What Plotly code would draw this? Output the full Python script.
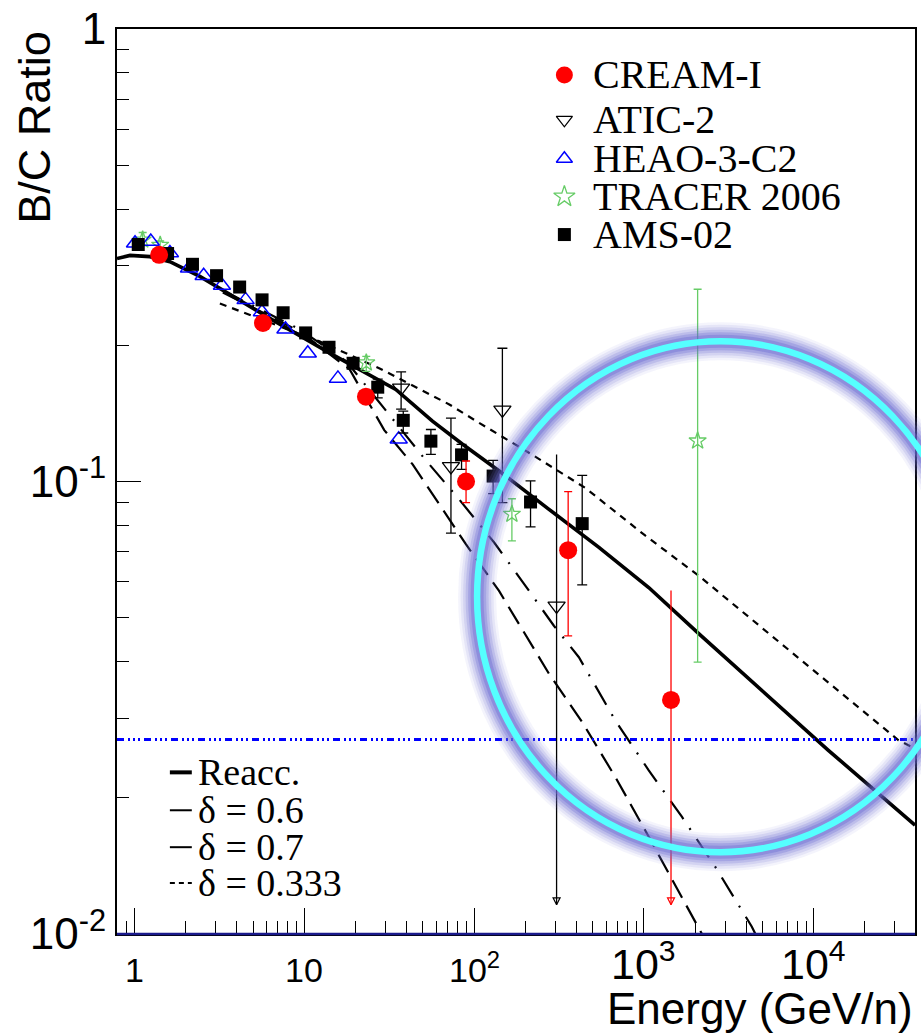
import numpy as np
import plotly.graph_objects as go

# ---------------- data ----------------
cream_E = [1.40, 5.72, 23.1, 89.7, 358, 1443]
cream_v = [0.317, 0.224, 0.154, 0.100, 0.0705, 0.0329]
cream_hi = [0.317, 0.224, 0.154, 0.111, 0.095, 0.0574]
cream_lo = [0.317, 0.224, 0.154, 0.0898, 0.0456, 0.0116]
cream_limit = [False, False, False, False, False, True]

atic_E = [37.2, 73.1, 146.8, 306]
atic_v = [0.161, 0.108, 0.144, 0.0531]
atic_hi = [0.1747, 0.138, 0.197, 0.1148]
atic_lo = [0.1445, 0.0769, 0.0898, 0.0116]
atic_limit = [False, False, False, True]

heao_E = [1.01, 1.25, 1.62, 2.10, 2.56, 3.28, 4.52, 5.64, 7.76, 10.5, 15.8, 36.0]
heao_v = [0.336, 0.339, 0.320, 0.296, 0.285, 0.271, 0.252, 0.237, 0.217, 0.192, 0.169, 0.124]

tracer_E = [1.12, 1.42, 23.2, 167, 2070]
tracer_v = [0.342, 0.333, 0.183, 0.0847, 0.123]
tracer_hi = [0.355, 0.340, 0.189, 0.0916, 0.266]
tracer_lo = [0.332, 0.326, 0.1752, 0.0739, 0.0399]

ams_E = [1.055, 1.57, 2.20, 3.05, 4.17, 5.65, 7.52, 10.2, 14.0, 19.4, 27.1, 38.3, 55.7, 84.4, 129.5, 215, 433]
ams_v = [0.334, 0.319, 0.302, 0.285, 0.269, 0.252, 0.236, 0.213, 0.198, 0.1825, 0.1616, 0.1365, 0.1228, 0.1145, 0.1028, 0.0901, 0.0807]
ams_hi = [0.334, 0.319, 0.302, 0.285, 0.269, 0.252, 0.236, 0.213, 0.198, 0.1825, 0.1683, 0.143, 0.1303, 0.1208, 0.1113, 0.1003, 0.1032]
ams_lo = [0.334, 0.319, 0.302, 0.285, 0.269, 0.252, 0.236, 0.213, 0.198, 0.1825, 0.153, 0.128, 0.1148, 0.1064, 0.0940, 0.0794, 0.0591]

reacc_E = [0.791, 0.944, 1.236, 1.62, 1.855, 2.43, 5.99, 14.6, 34.6, 56.9, 85.2, 140.6, 276, 543, 1067, 2101, 12130, 39400]
reacc_v = [0.311, 0.316, 0.314, 0.306, 0.2986, 0.284, 0.2317, 0.191, 0.1597, 0.136, 0.121, 0.1055, 0.0868, 0.0715, 0.0583, 0.0461, 0.0255, 0.0174]

d06_E = [3.32, 9.40, 17.7, 28.9, 50.9, 81.7, 131.3, 192.5, 295, 414, 680, 1067, 1675, 2630, 4315, 4530]
d06_v = [0.2644, 0.2169, 0.1844, 0.1467, 0.1125, 0.0913, 0.0733, 0.0601, 0.048, 0.0409, 0.0296, 0.023, 0.01814, 0.01407, 0.01038, 0.0100]

d07_E = [3.32, 9.40, 18.5, 29.6, 43.5, 89.5, 140.3, 276, 433, 680, 1067, 1833, 2195]
d07_v = [0.2617, 0.2147, 0.177, 0.1299, 0.1091, 0.0727, 0.0573, 0.0376, 0.0294, 0.0222, 0.0164, 0.0113, 0.0100]

d0333_E = [3.19, 12.3, 27.6, 71.5, 107, 220, 453, 1020, 2100, 31500, 39400]
d0333_v = [0.2474, 0.204, 0.178, 0.148, 0.1348, 0.1146, 0.0967, 0.0759, 0.0619, 0.0268, 0.0257]

hline_v = 0.0269

data_labels = ["CREAM-I", "ATIC-2", "HEAO-3-C2", "TRACER 2006", "AMS-02"]
model_labels = ["Reacc.", "δ = 0.6", "δ = 0.7", "δ = 0.333"]

x_ticks = [1, 10, 100, 1000, 10000]
x_ticktext = ["1", "10", "10<sup>2</sup>", "10<sup>3</sup>", "10<sup>4</sup>"]
y_ticks = [0.01, 0.1, 1]
y_ticktext = ["10<sup>-2</sup>", "10<sup>-1</sup>", "1"]

X_MIN, X_MAX = 0.791, 39400
Y_MIN, Y_MAX = 0.01, 1.0

# ---------------- layout geometry (pixels) ----------------
W, H = 921, 1033
L, R, T, B = 117, 917, 27, 934
x_label_sizes = [34, 34, 34, 43, 43]
x_label_centers = [970, 970, 968, 961, 961]


def pxx(px):
    return (px - L) / (R - L)


def pxy(py):
    return (B - py) / (B - T)


def err(v, hi, lo):
    v = np.asarray(v, float)
    return np.asarray(hi, float) - v, v - np.asarray(lo, float)


fig = go.Figure()

# ---------------- model curves ----------------
fig.add_trace(go.Scatter(x=d07_E, y=d07_v, mode="lines",
                         line=dict(color="black", width=2.2, dash="20px,9px"), showlegend=False))
fig.add_trace(go.Scatter(x=d06_E, y=d06_v, mode="lines",
                         line=dict(color="black", width=2.2, dash="22px,11px,2px,11px"), showlegend=False))
fig.add_trace(go.Scatter(x=d0333_E, y=d0333_v, mode="lines",
                         line=dict(color="black", width=2.2, dash="7px,6px"), showlegend=False))
fig.add_trace(go.Scatter(x=reacc_E, y=reacc_v, mode="lines",
                         line=dict(color="black", width=3.6), showlegend=False))
fig.add_trace(go.Scatter(x=[X_MIN, X_MAX], y=[hline_v, hline_v], mode="lines",
                         line=dict(color="#0000ff", width=3,
                                   dash="7px,4px,2px,3px,2px,3px,2px,4px"), showlegend=False))


def add_points(E, v, hi, lo, limit, marker, ecolor, ewidth):
    E = np.asarray(E); v = np.asarray(v)
    up, dn = err(v, hi, lo)
    lim = np.asarray(limit, bool)
    norm = ~lim
    fig.add_trace(go.Scatter(x=E[norm], y=v[norm], mode="markers", marker=marker,
                             error_y=dict(type="data", symmetric=False, array=up[norm],
                                          arrayminus=dn[norm], color=ecolor,
                                          thickness=1.3, width=ewidth),
                             showlegend=False))
    if lim.any():
        fig.add_trace(go.Scatter(x=E[lim], y=v[lim], mode="markers", marker=marker,
                                 error_y=dict(type="data", symmetric=False, array=up[lim],
                                              arrayminus=dn[lim], color=ecolor,
                                              thickness=1.3, width=0),
                                 showlegend=False))
        fig.add_trace(go.Scatter(x=E[lim], y=np.asarray(lo, float)[lim], mode="markers",
                                 marker=dict(symbol="arrow-down-open", size=7,
                                             color=ecolor, line=dict(color=ecolor, width=1.2)),
                                 showlegend=False))


green = "#66cc66"
add_points(tracer_E, tracer_v, tracer_hi, tracer_lo, [False] * len(tracer_E),
           dict(symbol="star-open", size=13, color=green, line=dict(color=green, width=1.3)),
           green, 4)
fig.add_trace(go.Scatter(x=heao_E, y=heao_v, mode="markers",
                         marker=dict(symbol="triangle-up-open", size=15, color="#0000ff",
                                     line=dict(color="#0000ff", width=1.5)),
                         showlegend=False))
add_points(ams_E, ams_v, ams_hi, ams_lo, [False] * len(ams_E),
           dict(symbol="square", size=13, color="black"), "black", 5)
add_points(atic_E, atic_v, atic_hi, atic_lo, atic_limit,
           dict(symbol="triangle-down-open", size=15, color="black",
                line=dict(color="black", width=1.3)), "black", 5)
add_points(cream_E, cream_v, cream_hi, cream_lo, cream_limit,
           dict(symbol="circle", size=18, color="#ff0000"), "#ff0000", 4)

# ---------------- custom legends on an overlay (paper-like) axis ----------------
leg_rows = [73, 118, 157, 195, 233]
leg_marker_x = 565.5
leg_text_x = 592
leg_markers = [
    dict(symbol="circle", size=17, color="#ff0000"),
    dict(symbol="triangle-down-open", size=14, color="black", line=dict(color="black", width=1.3)),
    dict(symbol="triangle-up-open", size=14, color="#0000ff", line=dict(color="#0000ff", width=1.5)),
    dict(symbol="star-open", size=16, color=green, line=dict(color=green, width=1.3)),
    dict(symbol="square", size=13, color="black"),
]
for row, mk, lab in zip(leg_rows, leg_markers, data_labels):
    fig.add_trace(go.Scatter(x=[pxx(leg_marker_x)], y=[pxy(row)], mode="markers", marker=mk,
                             xaxis="x2", yaxis="y2", showlegend=False))
    fig.add_annotation(x=pxx(leg_text_x), y=pxy(row), xref="paper", yref="paper",
                       text=lab, showarrow=False, xanchor="left", yanchor="middle",
                       font=dict(family="Liberation Serif", size=40, color="black"))

mod_rows = [772, 810, 847, 883]
mod_line_x = (170, 192)
mod_text_x = 196
mod_styles = [dict(width=4, dash="solid"), dict(width=2, dash="solid"),
              dict(width=2, dash="solid"), dict(width=2, dash="5px,4px")]
for row, st, lab in zip(mod_rows, mod_styles, model_labels):
    fig.add_trace(go.Scatter(x=[pxx(mod_line_x[0]), pxx(mod_line_x[1])], y=[pxy(row), pxy(row)],
                             mode="lines", line=dict(color="black", **st),
                             xaxis="x2", yaxis="y2", showlegend=False))
    fig.add_annotation(x=pxx(mod_text_x), y=pxy(row), xref="paper", yref="paper",
                       text=lab, showarrow=False, xanchor="left", yanchor="middle",
                       font=dict(family="Liberation Serif", size=38, color="black"))

# ---------------- highlight circle with soft glow ----------------
cx, cy, rx, ry = 722, 596, 244, 256
circ = dict(type="circle", xref="paper", yref="paper",
            x0=pxx(cx - rx), x1=pxx(cx + rx), y0=pxy(cy + ry), y1=pxy(cy - ry), layer="above")
for w, a in [(38, 0.07), (33, 0.11), (28, 0.15), (23, 0.2), (18, 0.28), (13, 0.38)]:
    fig.add_shape(**circ, line=dict(color=f"rgba(105,105,210,{a})", width=w))
fig.add_shape(**circ, line=dict(color="#55ffff", width=6.5))

# bottom frame line (navy)
fig.add_shape(type="line", xref="paper", yref="paper", x0=0, x1=1, y0=0, y1=0,
              line=dict(color="#1a1a8c", width=2.5), layer="above")

# ---------------- x tick labels (individually sized, as in the reference) ----------------
for tv, tt, fs, cyl in zip(x_ticks, x_ticktext, x_label_sizes, x_label_centers):
    fig.add_annotation(x=np.log10(tv), y=pxy(cyl), xref="x", yref="paper", text=tt,
                       showarrow=False, xanchor="center", yanchor="middle",
                       font=dict(family="Liberation Sans", size=fs, color="black"))

# ---------------- axes titles ----------------
fig.add_annotation(x=pxx(34), y=1.0, xref="paper", yref="paper", text="B/C Ratio",
                   textangle=-90, showarrow=False, xanchor="center", yanchor="top",
                   font=dict(family="Liberation Sans", size=45, color="black"))
fig.add_annotation(x=1.0, y=pxy(1009), xref="paper", yref="paper", text="Energy (GeV/n)",
                   showarrow=False, xanchor="right", yanchor="middle",
                   font=dict(family="Liberation Sans", size=44, color="black"))

x_minor = [m * 10.0 ** d for d in range(-1, 5) for m in range(2, 10)
           if X_MIN < m * 10.0 ** d < X_MAX]
y_minor = [m * 10.0 ** d for d in range(-2, 0) for m in range(2, 10)]

fig.update_layout(
    width=W, height=H,
    margin=dict(l=L, r=W - R, t=T, b=H - B),
    paper_bgcolor="white", plot_bgcolor="white",
    showlegend=False,
    xaxis=dict(type="log", range=[np.log10(X_MIN), np.log10(X_MAX)],
               tickvals=x_ticks, showticklabels=False, ticks="inside", ticklen=26,
               tickwidth=1.3, tickcolor="black", showgrid=False, zeroline=False,
               showline=True, linecolor="black", linewidth=2, mirror=True,
               minor=dict(tickvals=x_minor, ticks="inside", ticklen=13, tickwidth=1.3,
                          tickcolor="black", showgrid=False)),
    yaxis=dict(type="log", range=[np.log10(Y_MIN), np.log10(Y_MAX)],
               tickvals=y_ticks, ticktext=y_ticktext, ticks="inside", ticklen=24,
               tickwidth=1.3, tickcolor="black", showgrid=False, zeroline=False,
               showline=True, linecolor="black", linewidth=2, mirror=True,
               tickfont=dict(family="Liberation Sans", size=44, color="black"),
               minor=dict(tickvals=y_minor, ticks="inside", ticklen=12, tickwidth=1.3,
                          tickcolor="black", showgrid=False)),
    xaxis2=dict(overlaying="x", range=[0, 1], visible=False, anchor="y2", fixedrange=True,
                showticklabels=False),
    yaxis2=dict(overlaying="y", range=[0, 1], visible=False, anchor="x2", fixedrange=True,
                showticklabels=False),
)

fig.write_html("out.html", config={"displayModeBar": False},
               post_script="document.body.style.margin='0';document.body.style.overflow='hidden';")
